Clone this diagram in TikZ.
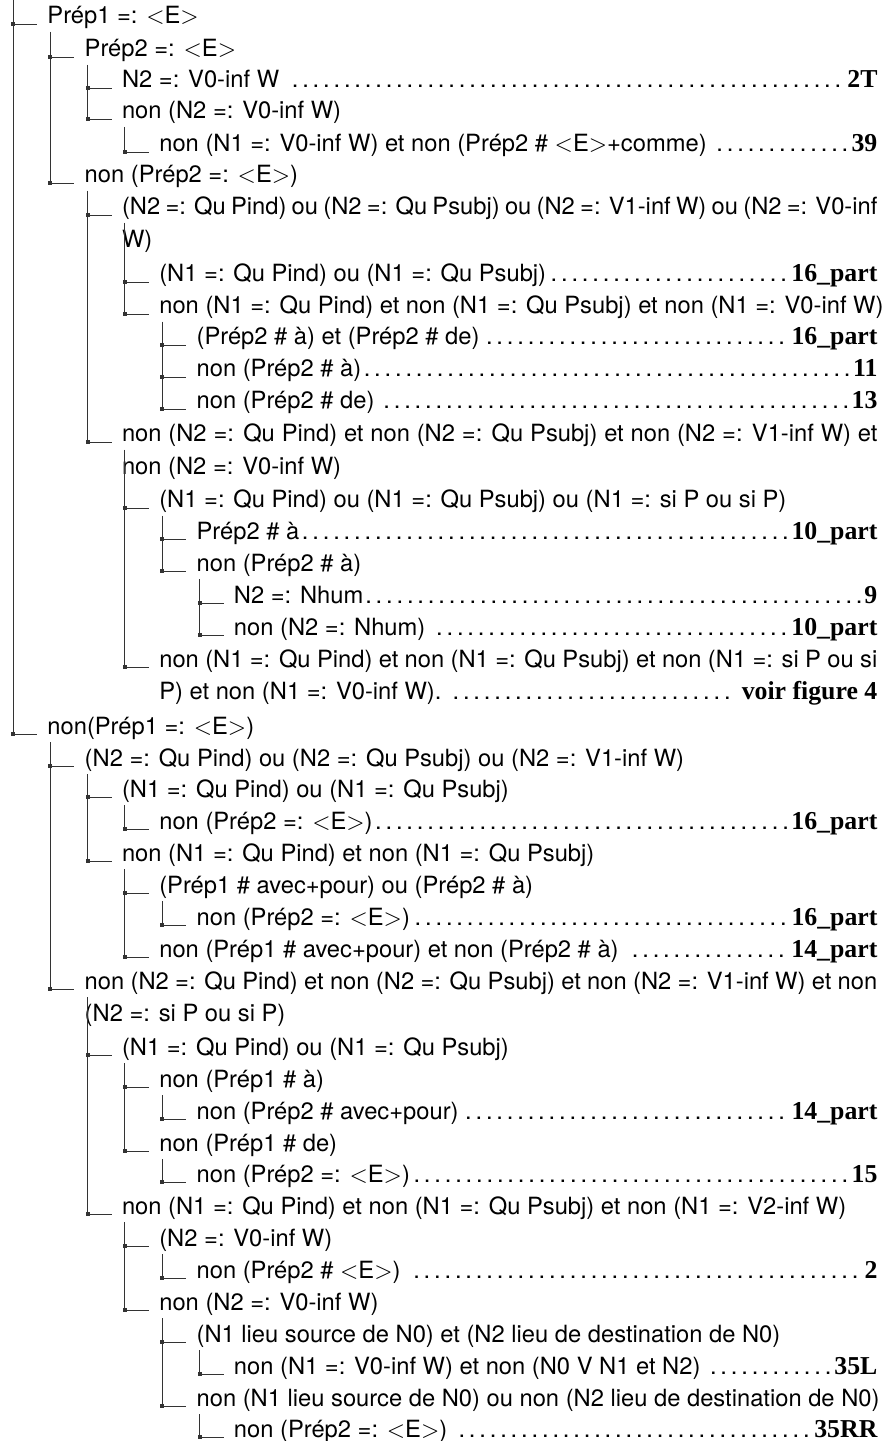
\documentclass[tikz,border=0pt]{standalone}
\usepackage{fontspec}
\usepackage{tikz}
\usetikzlibrary{calc}
\setmainfont{TeX Gyre Heros}
\newfontfamily\numfamily{Liberation Serif}
\definecolor{TreeInk}{HTML}{333333}
\hyphenpenalty=10000
\exhyphenpenalty=10000
\newcommand{\condfont}{\fontsize{11.04pt}{14.9pt}\selectfont}
\newcommand{\target}[1]{{\numfamily\bfseries\fontsize{12pt}{14.9pt}\selectfont #1}}
\tikzset{
  cond/.style={anchor=base west,inner sep=0pt,font=\condfont},
  leaf/.style={cond,text width=#1,align=justify},
  treeline/.style={draw=TreeInk,line width=0.45pt},
}
% junction square and stub left of a node
\newcommand{\knot}[1]{%
  \coordinate (k#1) at ($(#1.base west)+(-34,0)$);
  \draw[treeline] (k#1) -- ++(24,0);
  \fill[TreeInk] ($(k#1)+(-2,-2)$) rectangle ($(k#1)+(2,2)$);}
% branch from parent #1 down to child #2
\newcommand{\twig}[2]{%
  \knot{#2}
  \coordinate (f#2) at ($(#1.base)+(0,8)$);
  \draw[treeline] (k#2 |- f#2) -- (k#2);}
\begin{document}
\begin{tikzpicture}[x=0.4653pt,y=-0.4653pt]
\useasboundingbox (0,0) rectangle (883,1441);
% Prep1 =: <E>
\node[cond] (r1) at (47,24) {Prép1 =: $<$E$>$};
\node[cond] (r2) at (84.3,57) {Prép2 =: $<$E$>$};
\node[leaf=351.5pt] (r3) at (121.6,88) {N2 =: V0-inf W \dotfill\target{2T}};
\node[cond] (r4) at (121.6,119) {non (N2 =: V0-inf W)};
\node[leaf=334.1pt] (r5) at (158.9,152) {non (N1 =: V0-inf W) et non (Prép2 \# $<$E$>$+comme) \dotfill\target{39}};
\node[cond] (r6) at (84.3,183) {non (Prép2 =: $<$E$>$)};
\node[leaf=351.5pt] (r7) at (121.6,215) {(N2 =: Qu Pind) ou (N2 =: Qu Psubj) ou (N2 =: V1-inf W) ou (N2 =: V0-inf\linebreak W)};
\node[leaf=334.1pt] (r9) at (158.9,282) {(N1 =: Qu Pind) ou (N1 =: Qu Psubj)\dotfill\target{16\_part}};
\node[cond] (r10) at (158.9,314) {non (N1 =: Qu Pind) et non (N1 =: Qu Psubj) et non (N1 =: V0-inf W)};
\node[leaf=316.8pt] (r11) at (196.2,345) {(Prép2 \# à) et (Prép2 \# de)\dotfill\target{16\_part}};
\node[leaf=316.8pt] (r12) at (196.2,377) {non (Prép2 \# à)\dotfill\target{11}};
\node[leaf=316.8pt] (r13) at (196.2,409) {non (Prép2 \# de) \dotfill\target{13}};
\node[leaf=351.5pt] (r14) at (121.6,442) {non (N2 =: Qu Pind) et non (N2 =: Qu Psubj) et non (N2 =: V1-inf W) et\linebreak non (N2 =: V0-inf W)};
\node[cond] (r16) at (158.9,508) {(N1 =: Qu Pind) ou (N1 =: Qu Psubj) ou (N1 =: si P ou si P)};
\node[leaf=316.8pt] (r17) at (196.2,539) {Prép2 \# à\dotfill\target{10\_part}};
\node[cond] (r18) at (196.2,571) {non (Prép2 \# à)};
\node[leaf=299.4pt] (r19) at (233.5,603) {N2 =: Nhum\dotfill\target{9}};
\node[leaf=299.4pt] (r20) at (233.5,635) {non (N2 =: Nhum) \dotfill\target{10\_part}};
\node[leaf=334.1pt] (r21) at (158.9,667) {non (N1 =: Qu Pind) et non (N1 =: Qu Psubj) et non (N1 =: si P ou si\linebreak P) et non (N1 =: V0-inf W). \dotfill\ \target{voir figure 4}};
% non(Prep1 =: <E>)
\node[cond] (r23) at (47,734) {non(Prép1 =: $<$E$>$)};
\node[cond] (r24) at (84.3,766) {(N2 =: Qu Pind) ou (N2 =: Qu Psubj) ou (N2 =: V1-inf W)};
\node[cond] (r25) at (121.6,797) {(N1 =: Qu Pind) ou (N1 =: Qu Psubj)};
\node[leaf=334.1pt] (r26) at (158.9,829) {non (Prép2 =: $<$E$>$)\dotfill\target{16\_part}};
\node[cond] (r27) at (121.6,861) {non (N1 =: Qu Pind) et non (N1 =: Qu Psubj)};
\node[cond] (r28) at (158.9,893) {(Prép1 \# avec+pour) ou (Prép2 \# à)};
\node[leaf=316.8pt] (r29) at (196.2,925) {non (Prép2 =: $<$E$>$)\dotfill\target{16\_part}};
\node[leaf=334.1pt] (r30) at (158.9,957) {non (Prép1 \# avec+pour) et non (Prép2 \# à) \dotfill\target{14\_part}};
\node[leaf=368.8pt] (r31) at (84.3,989) {non (N2 =: Qu Pind) et non (N2 =: Qu Psubj) et non (N2 =: V1-inf W) et non\linebreak (N2 =: si P ou si P)};
\node[cond] (r33) at (121.6,1055) {(N1 =: Qu Pind) ou (N1 =: Qu Psubj)};
\node[cond] (r34) at (158.9,1087) {non (Prép1 \# à)};
\node[leaf=316.8pt] (r35) at (196.2,1119) {non (Prép2 \# avec+pour)\dotfill\target{14\_part}};
\node[cond] (r36) at (158.9,1151) {non (Prép1 \# de)};
\node[leaf=316.8pt] (r37) at (196.2,1182) {non (Prép2 =: $<$E$>$)\dotfill\target{15}};
\node[cond] (r38) at (121.6,1214) {non (N1 =: Qu Pind) et non (N1 =: Qu Psubj) et non (N1 =: V2-inf W)};
\node[cond] (r39) at (158.9,1246) {(N2 =: V0-inf W)};
\node[leaf=316.8pt] (r40) at (196.2,1278) {non (Prép2 \# $<$E$>$) \dotfill\target{2}};
\node[cond] (r41) at (158.9,1310) {non (N2 =: V0-inf W)};
\node[cond] (r42) at (196.2,1342) {(N1 lieu source de N0) et (N2 lieu de destination de N0)};
\node[leaf=299.4pt] (r43) at (233.5,1374) {non (N1 =: V0-inf W) et non (N0 V N1 et N2) \dotfill\target{35L}};
\node[cond] (r44) at (196.2,1406) {non (N1 lieu source de N0) ou non (N2 lieu de destination de N0)};
\node[leaf=299.4pt] (r45) at (233.5,1437) {non (Prép2 =: $<$E$>$) \dotfill\target{35RR}};
% branches
\coordinate (root) at (13,0);
\knot{r1}
\knot{r23}
\draw[treeline] (root) -- (kr23);
\twig{r1}{r2}
\twig{r1}{r6}
\twig{r2}{r3}
\twig{r2}{r4}
\twig{r4}{r5}
\twig{r6}{r7}
\twig{r6}{r14}
\twig{r7}{r9}
\twig{r7}{r10}
\twig{r10}{r11}
\twig{r10}{r12}
\twig{r10}{r13}
\twig{r14}{r16}
\twig{r14}{r21}
\twig{r16}{r17}
\twig{r16}{r18}
\twig{r18}{r19}
\twig{r18}{r20}
\twig{r23}{r24}
\twig{r23}{r31}
\twig{r24}{r25}
\twig{r24}{r27}
\twig{r25}{r26}
\twig{r27}{r28}
\twig{r27}{r30}
\twig{r28}{r29}
\twig{r31}{r33}
\twig{r31}{r38}
\twig{r33}{r34}
\twig{r33}{r36}
\twig{r34}{r35}
\twig{r36}{r37}
\twig{r38}{r39}
\twig{r38}{r41}
\twig{r39}{r40}
\twig{r41}{r42}
\twig{r41}{r44}
\twig{r42}{r43}
\twig{r44}{r45}
\end{tikzpicture}
\end{document}
